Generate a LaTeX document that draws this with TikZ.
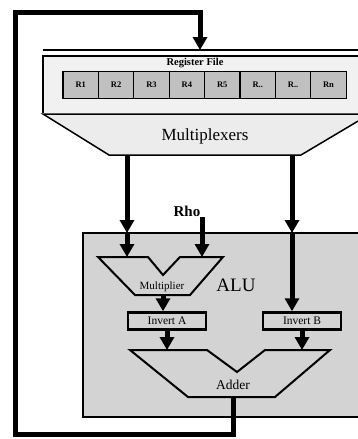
\documentclass[tikz,border=0pt]{standalone}
\usepackage{fontspec}
\setmainfont{Liberation Serif}
\usetikzlibrary{arrows.meta}

\definecolor{alugray}{RGB}{211,211,211}
\definecolor{rfgray}{RGB}{241,241,241}
\definecolor{reggray}{RGB}{192,192,192}
\definecolor{muxgray}{RGB}{236,236,236}

\begin{document}
\begin{tikzpicture}[x=1pt,y=-1pt,>={Triangle[length=13pt,width=14pt]},
    bus/.style={line width=5pt,->},
    reg/.style={draw,line width=1.3pt,fill=reggray,minimum width=35.4pt,minimum height=27pt,inner sep=0pt,font=\fontsize{8.5}{9}\selectfont\bfseries},
    inv/.style={draw,line width=2.5pt,fill=alugray,minimum width=78pt,minimum height=17pt,inner sep=0pt,font=\fontsize{11.5}{12}\selectfont},
    unit/.style={draw,line width=2pt,line join=miter}]
    \useasboundingbox (0,0) rectangle (358,439);
    \clip (0,0) rectangle (358,439);
    \fill[white] (0,0) rectangle (358,439);

    % register file and multiplexers
    \draw[line width=1.8pt] (43,50) -- (370,50);
    \draw[line width=1.5pt,fill=rfgray] (43,113) -- (43,56) -- (370,56) -- (370,113);
    \draw[line width=1.5pt,fill=muxgray] (43,114) -- (370,114) -- (301,155) -- (109,155) -- cycle;
    \node[font=\fontsize{10.5}{11}\selectfont\bfseries] (rflabel) at (195,63) {Register File};
    \foreach \i/\t in {1/R1,2/R2,3/R3,4/R4,5/R5,6/R..,7/R..,8/Rn}
      \node[reg] (r\i) at ({63+35.4*(\i-0.5)},85) {\t};
    \node[font=\fontsize{17}{18}\selectfont] (muxlabel) at (205,136) {Multiplexers};

    % ALU
    \draw[line width=1.5pt,fill=alugray] (83,233) rectangle (370,417);
    \node[font=\fontsize{19}{20}\selectfont] (alulabel) at (236,285) {ALU};
    \draw[unit] (98,257) -- (148,257) -- (163,275) -- (180,257) -- (223,257) -- (190,295) -- (135,295) -- cycle;
    \node[font=\fontsize{11}{12}\selectfont] (multlabel) at (162,287) {Multiplier};
    \node[inv] (inva) at (167,321) {Invert A};
    \node[inv] (invb) at (302,321) {Invert B};
    \draw[unit] (130,350) -- (207,350) -- (237,372) -- (265,350) -- (330,350) -- (275,397) -- (188,397) -- cycle;
    \node[font=\fontsize{13.5}{14}\selectfont] (addlabel) at (233,385) {Adder};
    \node[font=\fontsize{15}{16}\selectfont\bfseries] (rholabel) at (187,211) {Rho};

    \coordinate (muxl) at (127,155);
    \coordinate (muxr) at (292,155);
    \coordinate (alul) at (127,233);
    \coordinate (alur) at (292,233);
    \coordinate (multl) at (127,257);
    \coordinate (multr) at (202,257);
    \coordinate (multout) at (163,295);
    \coordinate (rhoin) at (202,217);
    \coordinate (addl) at (167,350);
    \coordinate (addr) at (302,350);
    \coordinate (addout) at (233,397);
    \coordinate (loopbr) at (233,434);
    \coordinate (loopbl) at (15,434);
    \coordinate (looptl) at (15,12);
    \coordinate (looptr) at (200,12);
    \coordinate (rfin) at (200,50);

    % buses
    \draw[bus] (muxl) -- (alul);
    \draw[bus] (alul) -- (multl);
    \draw[bus] (rhoin) -- (multr);
    \draw[bus] (muxr) -- (alur);
    \draw[bus] (alur) -- (alur |- inva.north);
    \draw[bus] (multout) -- (multout |- inva.north);
    \draw[bus] (inva.south) -- (addl);
    \draw[bus] (invb.south) -- (addr);
    \draw[bus,line join=miter] (addout) -- (loopbr) -- (loopbl) -- (looptl) -- (looptr) -- (rfin);
  \end{tikzpicture}
\end{document}
